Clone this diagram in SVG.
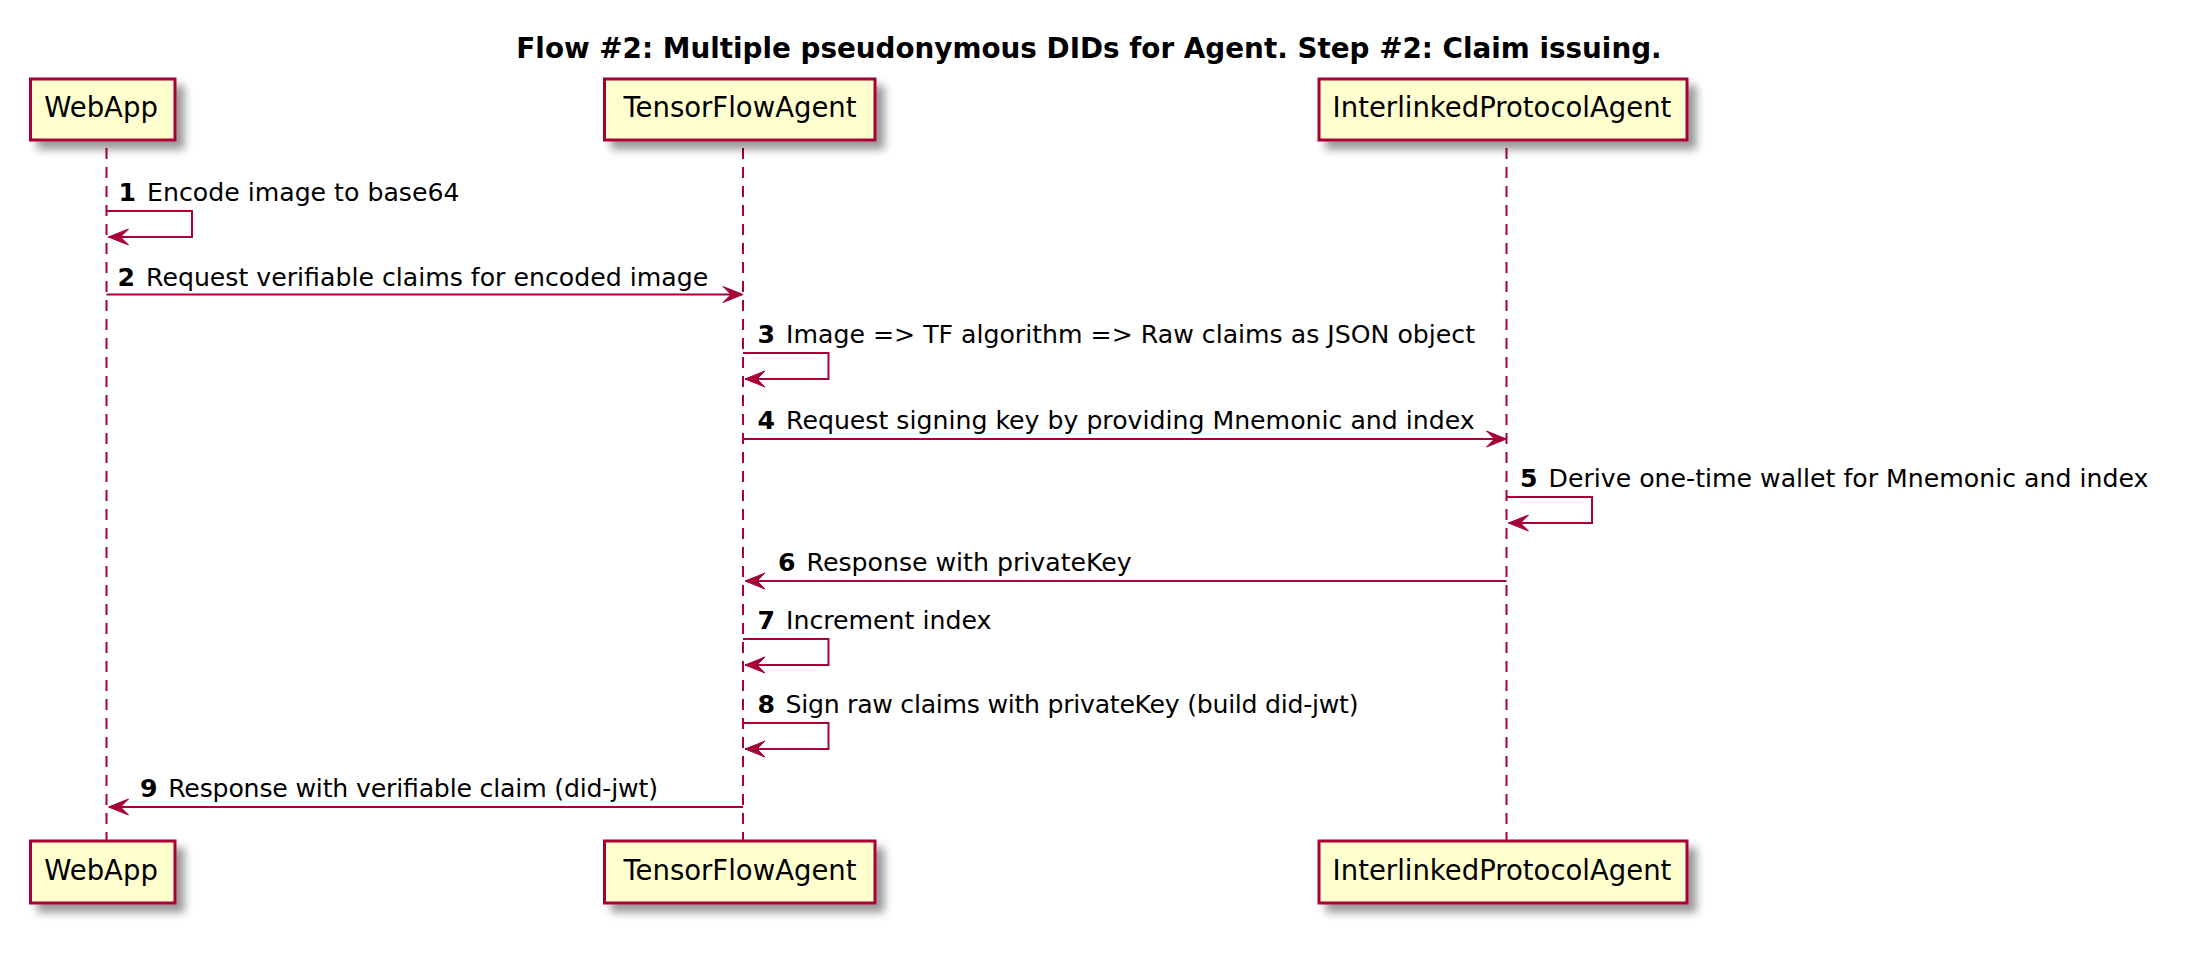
<svg xmlns="http://www.w3.org/2000/svg" width="2202" height="962" viewBox="0 0 2202 962">
<style>
  .bg { fill: #FFFFFF; }
  .title { font-family: "DejaVu Sans", "Liberation Sans", sans-serif; font-size: 27.8px; font-weight: bold; fill: #000000; }
  .pbox { fill: #FEFECE; stroke: #A80036; stroke-width: 3; }
  .pname { font-family: "DejaVu Sans", "Liberation Sans", sans-serif; font-size: 27.5px; fill: #000000; text-anchor: middle; }
  .life { stroke: #A80036; stroke-width: 2; stroke-dasharray: 11,8; fill: none; }
  .msg { stroke: #A80036; stroke-width: 2; fill: none; }
  .head { fill: #A80036; stroke: #A80036; stroke-width: 1; }
  .mtext { font-family: "DejaVu Sans", "Liberation Sans", sans-serif; font-size: 25.2px; fill: #000000; }
  .num { font-weight: bold; }
</style>
<defs>
  <filter id="shadow" x="-20%" y="-20%" width="150%" height="160%">
    <feGaussianBlur in="SourceAlpha" stdDeviation="4" result="b"/>
    <feColorMatrix in="b" type="matrix" values="0 0 0 0 0  0 0 0 0 0  0 0 0 0 0  0 0 0 0.4 0" result="b2"/>
    <feOffset in="b2" dx="8" dy="8" result="b3"/>
    <feBlend in="SourceGraphic" in2="b3" mode="normal"/>
  </filter>
</defs>
<rect class="bg" x="0" y="0" width="2202" height="962"/>
<text class="title" x="1089" y="57.5" text-anchor="middle">Flow #2: Multiple pseudonymous DIDs for Agent. Step #2: Claim issuing.</text>

<g id="lifelines">
  <line class="life" x1="106.5" y1="148" x2="106.5" y2="841"/>
  <line class="life" x1="743" y1="148" x2="743" y2="841"/>
  <line class="life" x1="1506.5" y1="148" x2="1506.5" y2="841"/>
</g>

<g id="WebApp">
  <rect class="pbox" x="30.5" y="79" width="144.5" height="61" filter="url(#shadow)"/>
  <text class="pname" x="101" y="116.7">WebApp</text>
  <rect class="pbox" x="30.5" y="841" width="144.5" height="62" filter="url(#shadow)"/>
  <text class="pname" x="101" y="879.7">WebApp</text>
</g>
<g id="TensorFlowAgent">
  <rect class="pbox" x="604.5" y="79" width="270.5" height="61" filter="url(#shadow)"/>
  <text class="pname" x="740" y="116.7">TensorFlowAgent</text>
  <rect class="pbox" x="604.5" y="841" width="270.5" height="62" filter="url(#shadow)"/>
  <text class="pname" x="740" y="879.7">TensorFlowAgent</text>
</g>
<g id="InterlinkedProtocolAgent">
  <rect class="pbox" x="1319" y="79" width="368" height="61" filter="url(#shadow)"/>
  <text class="pname" x="1502" y="116.7">InterlinkedProtocolAgent</text>
  <rect class="pbox" x="1319" y="841" width="368" height="62" filter="url(#shadow)"/>
  <text class="pname" x="1502" y="879.7">InterlinkedProtocolAgent</text>
</g>

<g id="connectors">
  <!-- 1 self WebApp -->
  <polyline class="msg" points="106.5,211 192,211 192,237 108.5,237"/>
  <polygon class="head" points="128.5,229 108.5,237 128.5,245 120.5,237"/>
  <text class="mtext" x="118.5" y="201"><tspan class="num">1</tspan><tspan dx="3"> Encode image to base64</tspan></text>
  <!-- 2 WebApp -> TF -->
  <line class="msg" x1="106.5" y1="294.5" x2="741" y2="294.5"/>
  <polygon class="head" points="723,286.5 743,294.5 723,302.5 731,294.5"/>
  <text class="mtext" x="117.5" y="285.5"><tspan class="num">2</tspan><tspan dx="3"> Request verifiable claims for encoded image</tspan></text>
  <!-- 3 self TF -->
  <polyline class="msg" points="743,353 828.5,353 828.5,379 745,379"/>
  <polygon class="head" points="765,371 745,379 765,387 757,379"/>
  <text class="mtext" x="757.5" y="343"><tspan class="num">3</tspan><tspan dx="3"> Image =&gt; TF algorithm =&gt; Raw claims as JSON object</tspan></text>
  <!-- 4 TF -> IPA -->
  <line class="msg" x1="743" y1="439" x2="1504.5" y2="439"/>
  <polygon class="head" points="1486.5,431 1506.5,439 1486.5,447 1494.5,439"/>
  <text class="mtext" x="757.5" y="429"><tspan class="num">4</tspan><tspan dx="3"> Request signing key by providing Mnemonic and index</tspan></text>
  <!-- 5 self IPA -->
  <polyline class="msg" points="1506.5,497 1592,497 1592,523 1508.5,523"/>
  <polygon class="head" points="1528.5,515 1508.5,523 1528.5,531 1520.5,523"/>
  <text class="mtext" x="1520" y="487"><tspan class="num">5</tspan><tspan dx="3"> Derive one-time wallet for Mnemonic and index</tspan></text>
  <!-- 6 IPA -> TF -->
  <line class="msg" x1="1506.5" y1="581" x2="747" y2="581"/>
  <polygon class="head" points="765,573 745,581 765,589 757,581"/>
  <text class="mtext" x="778" y="571"><tspan class="num">6</tspan><tspan dx="3"> Response with privateKey</tspan></text>
  <!-- 7 self TF -->
  <polyline class="msg" points="743,639 828.5,639 828.5,665 745,665"/>
  <polygon class="head" points="765,657 745,665 765,673 757,665"/>
  <text class="mtext" x="757.5" y="629"><tspan class="num">7</tspan><tspan dx="3"> Increment index</tspan></text>
  <!-- 8 self TF -->
  <polyline class="msg" points="743,723 828.5,723 828.5,749 745,749"/>
  <polygon class="head" points="765,741 745,749 765,757 757,749"/>
  <text class="mtext" x="757.5" y="713" textLength="601" lengthAdjust="spacing"><tspan class="num">8</tspan><tspan dx="3"> Sign raw claims with privateKey (build did-jwt)</tspan></text>
  <!-- 9 TF -> WebApp -->
  <line class="msg" x1="743" y1="807" x2="110.5" y2="807"/>
  <polygon class="head" points="128.5,799 108.5,807 128.5,815 120.5,807"/>
  <text class="mtext" x="140" y="797" textLength="518" lengthAdjust="spacing"><tspan class="num">9</tspan><tspan dx="3"> Response with verifiable claim (did-jwt)</tspan></text>
</g>
</svg>
